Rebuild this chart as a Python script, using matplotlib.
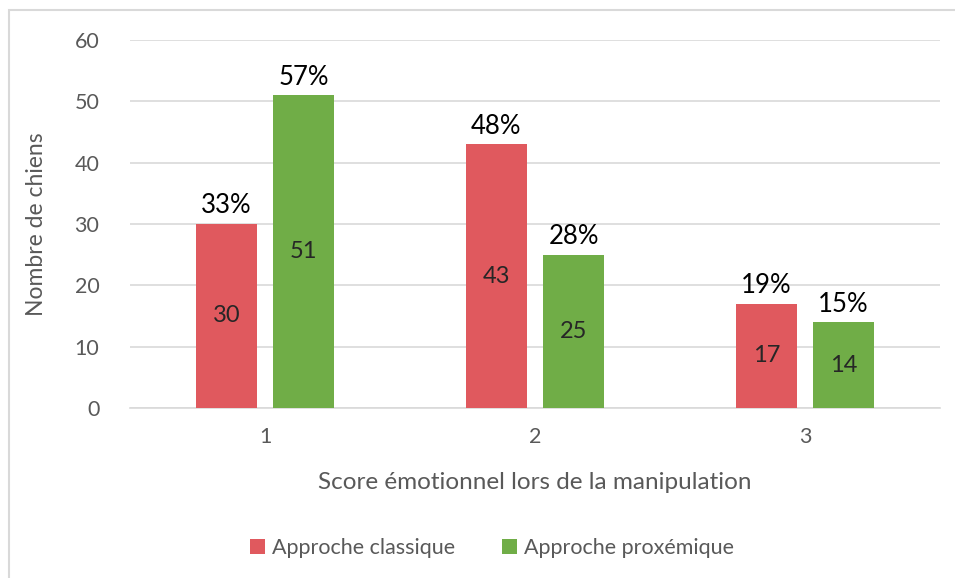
import matplotlib.pyplot as plt
import numpy as np
from matplotlib.patches import Rectangle

categories = ["1", "2", "3"]
classique = [30, 43, 17]
proxemique = [51, 25, 14]
pct_classique = ["33%", "48%", "19%"]
pct_proxemique = ["57%", "28%", "15%"]

red = "#E0595E"
green = "#70AD47"
grey = "#595959"

plt.rcParams['font.family'] = ['Lato', 'DejaVu Sans']

fig = plt.figure(figsize=(9.55, 5.78), dpi=100)
ax = fig.add_axes([130/955, 1 - 408/578, 810/955, 368/578])

x = np.arange(len(categories))
w = 0.226
off = 0.143
b1 = ax.bar(x - off, classique, w, color=red, label="Approche classique", zorder=3)
b2 = ax.bar(x + off, proxemique, w, color=green, label="Approche proxémique", zorder=3)

for bars, vals, pcts in [(b1, classique, pct_classique), (b2, proxemique, pct_proxemique)]:
  for bar, v, p in zip(bars, vals, pcts):
    cx = bar.get_x() + bar.get_width() / 2
    ax.text(cx, v / 2, str(v), ha="center", va="center", fontsize=17, color="#262626", zorder=4)
    ax.annotate(p, (cx, v), xytext=(0, 4), textcoords="offset points",
                ha="center", va="bottom", fontsize=18.5, color="black")

ax.set_xlim(-0.5, 2.5)
ax.set_ylim(0, 60)
ax.set_yticks(range(0, 61, 10))
ax.set_xticks(x)
ax.set_xticklabels(categories)
ax.yaxis.grid(True, color="#D9D9D9", linewidth=1.2, zorder=0)
ax.set_axisbelow(True)
for s in ["top", "right", "left"]:
  ax.spines[s].set_visible(False)
ax.spines["bottom"].set_color("#D9D9D9")
ax.spines["bottom"].set_linewidth(1.2)
ax.tick_params(length=0, labelsize=15.5, labelcolor=grey, pad=14)
ax.tick_params(axis="y", pad=22)

ax.set_xlabel("Score émotionnel lors de la manipulation", fontsize=17.5, color=grey, labelpad=18)
ax.set_ylabel("Nombre de chiens", fontsize=16.5, color=grey, labelpad=20)

fig.legend(loc="center", bbox_to_anchor=(492/955, 1 - 548/578), ncol=2, frameon=False,
           fontsize=15.5, labelcolor=grey, handlelength=0.7, handleheight=0.7,
           handletextpad=0.3, columnspacing=2.2)

# outer chart frame (left and top edges visible)
fig.patches.append(Rectangle((8.5/955, -0.1), 1.2, 1.1 - 10.5/578, transform=fig.transFigure,
                             fill=False, edgecolor="#D9D9D9", linewidth=1.5))

fig.savefig("out.png", dpi=100)
